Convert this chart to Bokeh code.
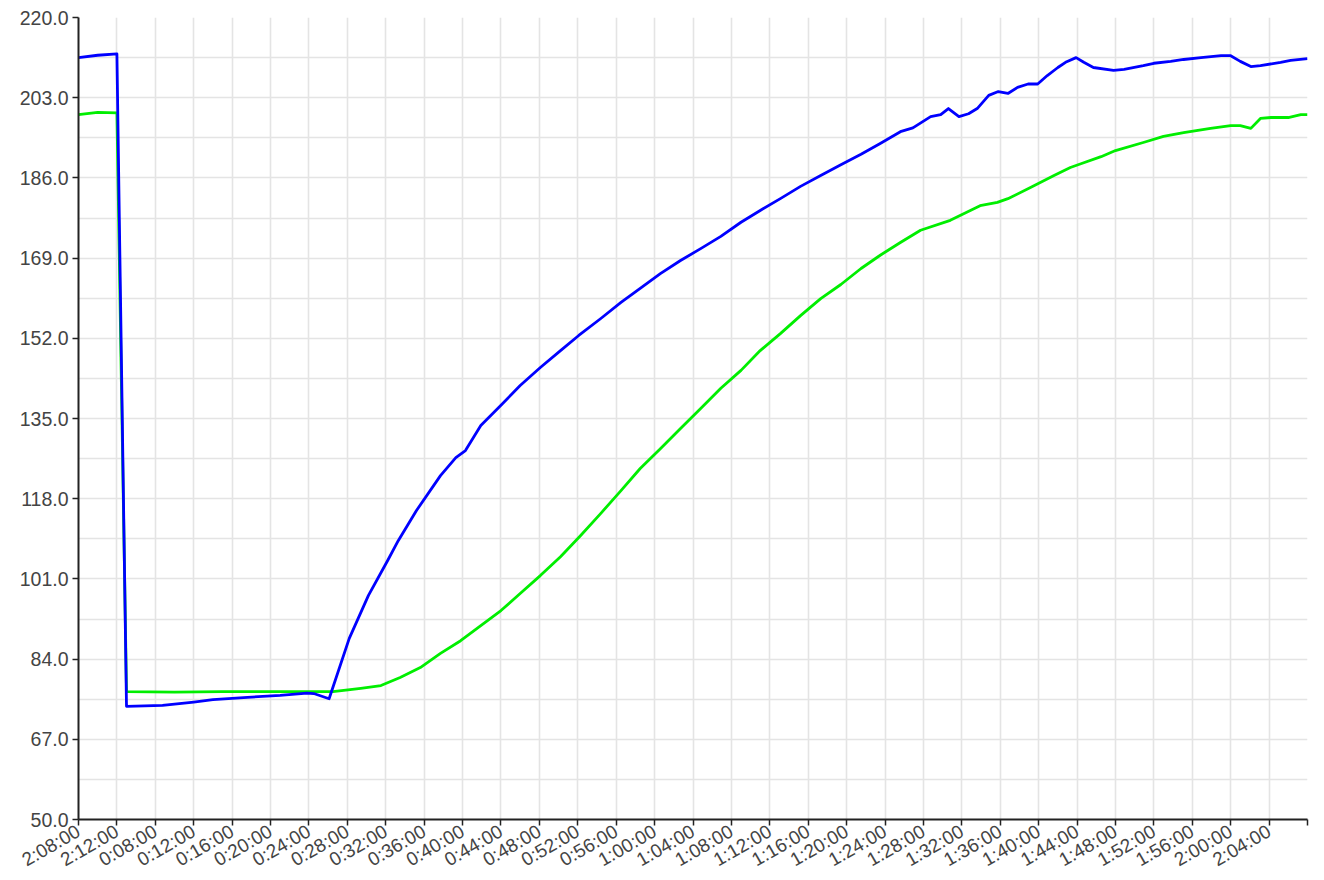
import math
from bokeh.plotting import figure
from bokeh.models import FixedTicker, Range1d, PrintfTickFormatter
from bokeh.embed import file_html
from bokeh.resources import INLINE

# x positions are in minutes from the first sample (one tick label every 4 minutes)
x_tick_labels = [
    "2:08:00", "2:12:00", "0:08:00", "0:12:00", "0:16:00", "0:20:00", "0:24:00",
    "0:28:00", "0:32:00", "0:36:00", "0:40:00", "0:44:00", "0:48:00", "0:52:00",
    "0:56:00", "1:00:00", "1:04:00", "1:08:00", "1:12:00", "1:16:00", "1:20:00",
    "1:24:00", "1:28:00", "1:32:00", "1:36:00", "1:40:00", "1:44:00", "1:48:00",
    "1:52:00", "1:56:00", "2:00:00", "2:04:00", "",
]
y_tick_values = [50.0, 67.0, 84.0, 101.0, 118.0, 135.0, 152.0, 169.0, 186.0, 203.0, 220.0]

blue_x = [0, 2, 4, 5, 8.75, 12, 14, 17.6, 21, 23.8, 24.5, 26.1, 28.2, 30.2, 32.2, 33.3,
          35.2, 37.7, 39.3, 40.3, 41.9, 44, 46, 48.1, 50.2, 52.1, 54.4, 56.5, 58.5, 60.6,
          62.7, 64.8, 66.9, 69, 71, 73.1, 75.2, 77.3, 79.4, 81.5, 83.5, 85.6, 86.9, 88.75,
          89.8, 90.6, 91.7, 92.7, 93.6, 94.8, 95.8, 96.8, 97.8, 98.9, 99.9, 100.9, 102,
          102.8, 103.9, 104.7, 105.7, 107.8, 108.9, 110.9, 112, 113.75, 115.1, 116.9, 119,
          120, 121, 122.1, 123.1, 125.2, 126.25, 128]
blue_y = [211.5, 212.0, 212.3, 74.0, 74.2, 74.9, 75.4, 75.9, 76.3, 76.8, 76.7, 75.6, 88.4,
          97.5, 104.9, 109.1, 115.5, 122.9, 126.7, 128.2, 133.5, 137.8, 142.0, 145.8, 149.4,
          152.6, 156.2, 159.6, 162.6, 165.7, 168.5, 171.0, 173.6, 176.6, 179.1, 181.6, 184.2,
          186.5, 188.8, 191.0, 193.3, 195.8, 196.6, 199.0, 199.4, 200.7, 199.0, 199.6, 200.7,
          203.5, 204.3, 203.9, 205.2, 205.9, 205.9, 207.7, 209.4, 210.5, 211.5, 210.5, 209.4,
          208.8, 209.0, 209.8, 210.3, 210.7, 211.1, 211.5, 211.9, 211.9, 210.7, 209.6, 209.8,
          210.5, 210.9, 211.3]

green_x = [0, 2, 4, 5, 10, 15, 20, 26.5, 29.4, 31.5, 33.5, 35.6, 37.7, 39.8, 41.9, 44, 46,
           48.1, 50.2, 52.3, 54.4, 56.5, 58.5, 60.6, 62.7, 64.8, 66.9, 69, 71, 73.1, 75.2,
           77.3, 79.4, 81.5, 83.5, 85.6, 87.7, 90.8, 92.4, 93.9, 95.7, 96.8, 99.2, 101.6,
           103.3, 104.4, 106.5, 108, 110.9, 113, 115.1, 117.9, 120, 121, 122.1, 123.1, 124.2,
           126, 127.3, 128]
green_y = [199.4, 199.9, 199.8, 77.1, 77.0, 77.1, 77.1, 77.1, 77.8, 78.4, 80.1, 82.2, 85.2,
           87.9, 91.1, 94.3, 97.9, 101.7, 105.7, 110.2, 114.9, 119.7, 124.4, 128.6, 132.9,
           137.1, 141.4, 145.2, 149.4, 153.0, 156.8, 160.4, 163.4, 166.8, 169.6, 172.3, 174.9,
           177.0, 178.6, 180.1, 180.8, 181.6, 184.0, 186.5, 188.2, 189.0, 190.5, 191.8, 193.5,
           194.8, 195.6, 196.5, 197.1, 197.1, 196.5, 198.6, 198.8, 198.8, 199.4, 199.4]

x_tick_pos = [4 * i for i in range(len(x_tick_labels))]
y_minor = [v + 8.5 for v in y_tick_values[:-1]]

p = figure(frame_width=1229, frame_height=802,
           x_range=Range1d(0, 128), y_range=Range1d(50, 220),
           output_backend="svg", toolbar_location=None,
           min_border_left=78, min_border_top=17, min_border_right=16, min_border_bottom=40)
p.outline_line_color = None
p.background_fill_color = "white"
p.border_fill_color = "white"

p.line(green_x, green_y, line_color="#00ee00", line_width=2.8, line_join="round")
p.line(blue_x, blue_y, line_color="#0000ff", line_width=2.8, line_join="round")

p.xaxis.ticker = FixedTicker(ticks=x_tick_pos)
p.xaxis.major_label_overrides = {pos: lab for pos, lab in zip(x_tick_pos, x_tick_labels)}
p.xaxis.major_label_orientation = math.pi / 6
p.yaxis.ticker = FixedTicker(ticks=y_tick_values, minor_ticks=y_minor)
p.yaxis.formatter = PrintfTickFormatter(format="%.1f")

for ax in (p.xaxis, p.yaxis):
    ax.axis_line_color = "#222222"
    ax.axis_line_width = 2
    ax.major_tick_line_color = "#222222"
    ax.major_tick_line_width = 1.5
    ax.major_tick_out = 6
    ax.major_tick_in = 0
    ax.minor_tick_line_color = None
    ax.major_label_text_font = "Liberation Sans"
    ax.major_label_text_color = "#444444"
    ax.major_label_standoff = 4
p.yaxis.major_label_text_font_size = "19.5px"
p.xaxis.major_label_text_font_size = "19px"

p.xgrid.grid_line_color = "#e4e4e4"
p.xgrid.grid_line_width = 1.6
p.ygrid.grid_line_color = "#e4e4e4"
p.ygrid.grid_line_width = 1.6
p.ygrid.minor_grid_line_color = "#e4e4e4"
p.ygrid.minor_grid_line_width = 1.6

open("out.html", "w").write(file_html(p, INLINE))
